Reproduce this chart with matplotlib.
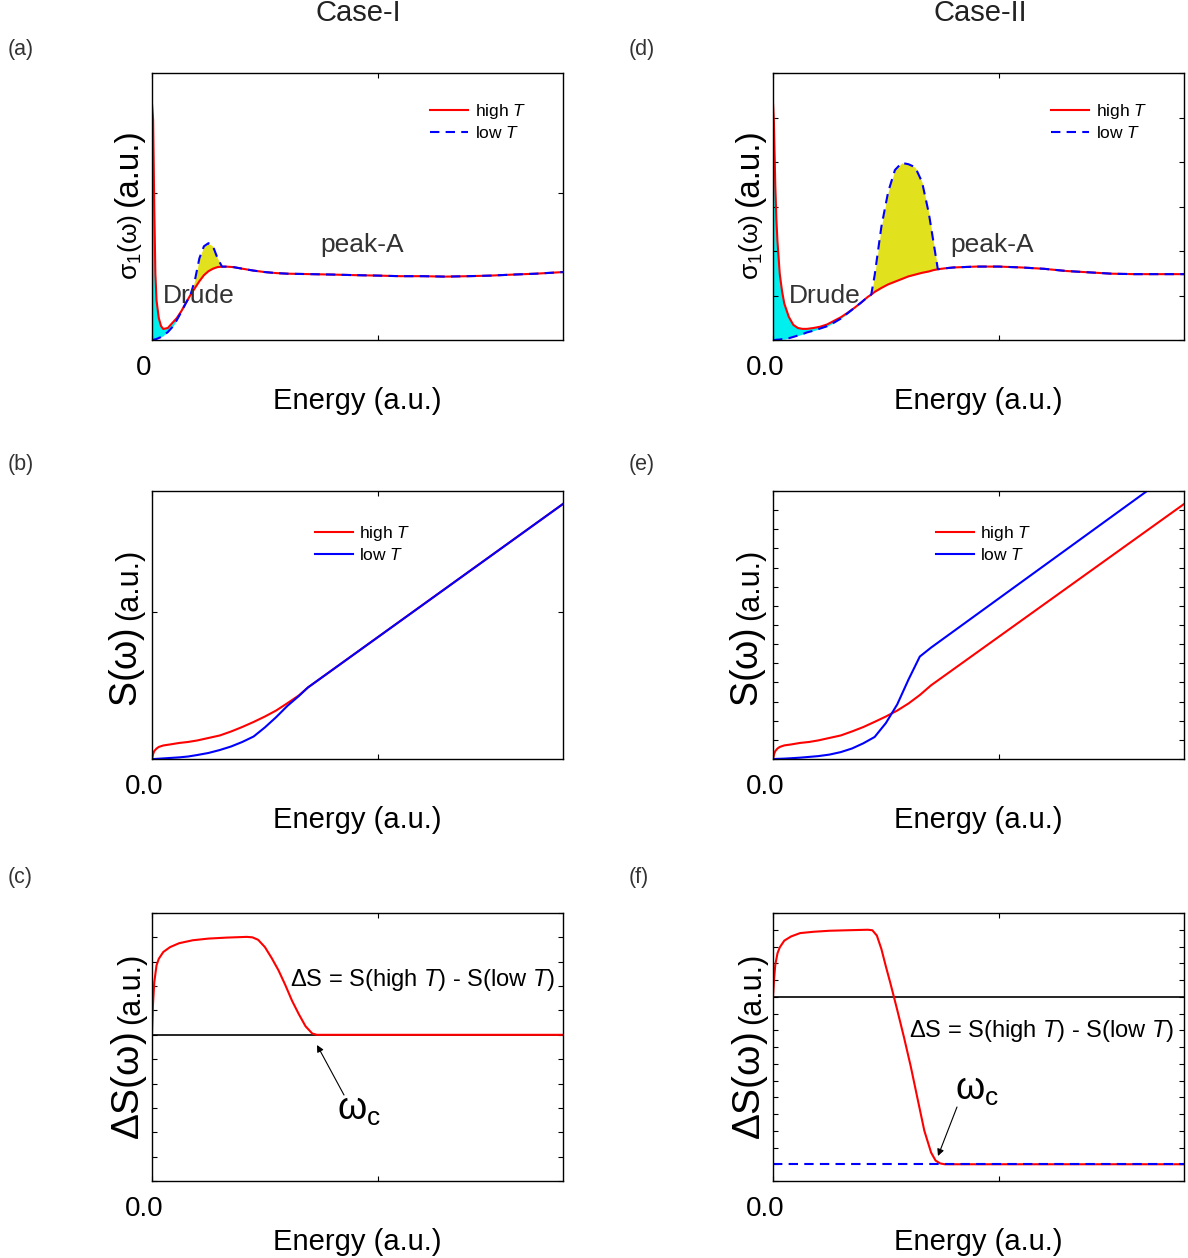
import matplotlib
matplotlib.use('Agg')
import matplotlib.pyplot as plt
from matplotlib.transforms import ScaledTranslation

plt.rcParams['font.family'] = ['Liberation Sans', 'DejaVu Sans']
plt.rcParams['mathtext.fontset'] = 'custom'
plt.rcParams['mathtext.rm'] = 'Liberation Sans'
plt.rcParams['mathtext.it'] = 'Liberation Sans:italic'
plt.rcParams['mathtext.bf'] = 'Liberation Sans:bold'

# ---- Case-I: sigma_1 (panel a) ----
energy_a = [0, 0.005, 0.01, 0.015, 0.02, 0.03, 0.04, 0.05, 0.07, 0.09,
            0.11, 0.13, 0.15, 0.17, 0.19, 0.21, 0.23, 0.25, 0.27, 0.29,
            0.31, 0.33, 0.36, 0.40, 0.45, 0.5, 0.55, 0.6, 0.7, 0.8,
            0.9, 1.0, 1.1, 1.2, 1.3, 1.4, 1.5, 1.6, 1.7, 1.82]
sigma_high_a = [1.61, 1.5, 0.9, 0.45, 0.27, 0.15, 0.095, 0.075, 0.082, 0.116,
                0.15, 0.197, 0.252, 0.306, 0.354, 0.401, 0.442, 0.469, 0.486, 0.497,
                0.5, 0.5, 0.497, 0.486, 0.473, 0.463, 0.456, 0.452, 0.449, 0.446,
                0.442, 0.439, 0.435, 0.435, 0.432, 0.435, 0.439, 0.446, 0.452, 0.463]
sigma_low_a = [0, 0.001, 0.003, 0.005, 0.007, 0.014, 0.02, 0.031, 0.054, 0.088,
               0.136, 0.192, 0.252, 0.306, 0.408, 0.558, 0.639, 0.66, 0.639, 0.558,
               0.5, 0.5, 0.497, 0.486, 0.473, 0.463, 0.456, 0.452, 0.449, 0.446,
               0.442, 0.439, 0.435, 0.435, 0.432, 0.435, 0.439, 0.446, 0.452, 0.463]

# ---- Case-II: sigma_1 (panel d) ----
energy_d = [0, 0.004, 0.01, 0.015, 0.02, 0.03, 0.04, 0.05, 0.07, 0.09,
            0.11, 0.13, 0.15, 0.18, 0.21, 0.24, 0.27, 0.30, 0.33, 0.36,
            0.39, 0.42, 0.435, 0.45, 0.48, 0.51, 0.54, 0.57, 0.6, 0.63,
            0.66, 0.69, 0.71, 0.73, 0.76, 0.8, 0.9, 1.0, 1.1, 1.2,
            1.3, 1.4, 1.5, 1.6, 1.7, 1.82]
sigma_high_d = [5.33, 4.9, 3.5, 2.7, 2.2, 1.48, 1.1, 0.82, 0.52, 0.34,
                0.27, 0.25, 0.25, 0.27, 0.30, 0.35, 0.43, 0.51, 0.61, 0.72,
                0.84, 0.97, 1.02, 1.08, 1.17, 1.25, 1.31, 1.37, 1.43, 1.47,
                1.51, 1.54, 1.57, 1.59, 1.61, 1.63, 1.65, 1.65, 1.63, 1.60,
                1.55, 1.52, 1.49, 1.48, 1.48, 1.48]
sigma_low_d = [0, 0, 0, 0.005, 0.007, 0.01, 0.02, 0.02, 0.04, 0.07,
               0.10, 0.13, 0.17, 0.21, 0.26, 0.31, 0.39, 0.48, 0.60, 0.72,
               0.84, 0.97, 1.02, 1.45, 2.55, 3.33, 3.82, 3.98, 3.95, 3.88,
               3.55, 2.85, 2.22, 1.59, 1.61, 1.63, 1.65, 1.65, 1.63, 1.60,
               1.55, 1.52, 1.49, 1.48, 1.48, 1.48]

# ---- spectral weight S(w) (panels b, e) ----
energy_b = [0, 0.005, 0.01, 0.02, 0.03, 0.05, 0.08, 0.12, 0.16, 0.2,
            0.25, 0.3, 0.35, 0.4, 0.45, 0.5, 0.55, 0.6, 0.65, 0.69, 1.82]
s_high_b = [0, 0.034, 0.054, 0.071, 0.082, 0.092, 0.099, 0.109, 0.116, 0.126,
            0.143, 0.160, 0.187, 0.218, 0.252, 0.289, 0.330, 0.380, 0.432, 0.486, 1.735]
s_low_b = [0, 0, 0, 0.001, 0.002, 0.004, 0.007, 0.011, 0.017, 0.027,
           0.041, 0.061, 0.085, 0.116, 0.153, 0.215, 0.285, 0.362, 0.428, 0.486, 1.735]

energy_e = [0, 0.005, 0.01, 0.02, 0.03, 0.05, 0.08, 0.12, 0.16, 0.2,
            0.25, 0.3, 0.35, 0.4, 0.45, 0.5, 0.55, 0.6, 0.65, 0.7, 1.82]
s_high_e = [0, 0.26, 0.41, 0.55, 0.63, 0.71, 0.76, 0.84, 0.89, 0.97,
            1.10, 1.23, 1.44, 1.67, 1.94, 2.22, 2.53, 2.90, 3.34, 3.85, 13.32]
s_low_e = [0, 0, 0, 0.01, 0.01, 0.02, 0.04, 0.07, 0.11, 0.15,
           0.23, 0.36, 0.55, 0.82, 1.15, 1.88, 2.85, 4.15, 5.35, 5.82, 15.4]

# ---- delta S (panels c, f) ----
energy_c = [0, 0.004, 0.01, 0.02, 0.03, 0.05, 0.08, 0.12, 0.18, 0.25,
            0.33, 0.42, 0.445, 0.47, 0.5, 0.53, 0.56, 0.59, 0.62, 0.65,
            0.68, 0.71, 0.73, 1.82]
ds_c = [0, 1.2, 2.15, 2.85, 3.12, 3.4, 3.6, 3.76, 3.88, 3.95,
        3.99, 4.02, 4.0, 3.9, 3.6, 3.15, 2.65, 2.05, 1.40, 0.85,
        0.35, 0.05, 0, 0]

energy_f = [0, 0.004, 0.01, 0.02, 0.03, 0.05, 0.08, 0.12, 0.18, 0.25,
            0.33, 0.42, 0.44, 0.46, 0.48, 0.5, 0.52, 0.55, 0.58, 0.61,
            0.64, 0.67, 0.7, 0.72, 0.74, 0.76, 1.82]
ds_f = [0, 0.9, 1.9, 2.6, 2.95, 3.35, 3.6, 3.8, 3.88, 3.94,
        3.97, 4.0, 3.97, 3.65, 2.85, 1.8, 0.8, -0.78, -2.42, -4.16,
        -6.08, -7.99, -9.3, -9.78, -9.95, -10, -10]
ds_low_f = -10

W, H = 1188, 1258
fig = plt.figure(figsize=(W / 100, H / 100), dpi=100)

RED = '#ff0000'
BLUE = '#0000ff'
GREY = '#333333'


def fxy(x, y):
    # pixel position in the picture -> figure fraction
    return x / W, 1 - y / H


def make_axes(col, row, zero_label, ylim, yticks):
    left = [152, 773][col]
    top = [73, 491, 913][row]
    bottom = [340, 759, 1181][row]
    ax = fig.add_axes([left / W, 1 - bottom / H, 411 / W, (bottom - top) / H])
    ax.set_xlim(0, 1.82)
    ax.set_ylim(*ylim)
    ax.set_xticks([0, 1])
    ax.set_xticklabels([zero_label, ''])
    ax.set_yticks(yticks)
    ax.set_yticklabels([])
    ax.tick_params(direction='in', top=True, right=True, length=3.6, width=0.8,
                   labelsize=20, pad=11)
    for s in ax.spines.values():
        s.set_linewidth(1.0)
    for lab in ax.get_xticklabels():
        lab.set_transform(lab.get_transform() + ScaledTranslation(-8 / 100, 0, fig.dpi_scale_trans))
    ax.set_xlabel('Energy (a.u.)', fontsize=21)
    ax.xaxis.set_label_coords(0.5, -0.175)
    return ax


def y_label(ax, x_base, y_big, big, big_size, small_size):
    # big symbol part, then "(a.u.)" right after it along the rotated line
    t = fig.text(*fxy(x_base, y_big), big, fontsize=big_size, rotation=90,
                 rotation_mode='anchor', ha='left', va='baseline')
    ax.annotate('(a.u.)', xy=(x_base, 1.0), xycoords=('figure pixels', t),
                xytext=(0, 6), textcoords='offset points', fontsize=small_size,
                rotation=90, rotation_mode='anchor', ha='left', va='baseline',
                annotation_clip=False)


def legend(ax, x, y):
    ax.legend(loc='center left', bbox_to_anchor=(x, y), frameon=False, fontsize=12.5,
              handlelength=2.2, handletextpad=0.35, labelspacing=0.25,
              borderpad=0, borderaxespad=0)


# titles and panel letters
fig.text(*fxy(358, 13), 'Case-I', fontsize=21, ha='center', va='center', color='#222222')
fig.text(*fxy(980, 13), 'Case-II', fontsize=21, ha='center', va='center', color='#222222')
for letter, x, y in [('(a)', 8, 50), ('(b)', 8, 465), ('(c)', 8, 878),
                     ('(d)', 629, 50), ('(e)', 629, 465), ('(f)', 629, 878)]:
    fig.text(*fxy(x, y), letter, fontsize=15.5, ha='left', va='center', color=GREY)

# sigma_1 panels
sigma_panels = [
    (0, energy_a, sigma_high_a, sigma_low_a, '0', (0, 1.82), [1], 163, 320),
    (1, energy_d, sigma_high_d, sigma_low_d, '0.0', (0, 6), range(0, 7), 789, 950),
]
for col, e, hi, lo, zl, ylim, yt, drude_x, peak_x in sigma_panels:
    ax = make_axes(col, 0, zl, ylim, yt)
    ax.fill_between(e, hi, lo, where=[h > l for h, l in zip(hi, lo)], interpolate=True,
                    color='#00f0f0', lw=0)
    ax.fill_between(e, hi, lo, where=[l > h for h, l in zip(hi, lo)], interpolate=True,
                    color='#e1e11e', lw=0)
    ax.plot(e, hi, color=RED, lw=1.5, label=r'high $\it{T}$')
    ax.plot(e, lo, color=BLUE, lw=1.5, dashes=(4.5, 3), label=r'low $\it{T}$')
    legend(ax, 0.677, 0.818)
    fig.text(*fxy(drude_x, 303), 'Drude', fontsize=19, color=GREY, va='baseline')
    fig.text(*fxy(peak_x, 252), 'peak-A', fontsize=19, color=GREY, va='baseline')
    y_label(ax, 137 + 621 * col, 280, r'$\mathregular{\sigma_1(\omega)}$', 19, 24)

# S(w) panels
s_panels = [
    (0, energy_b, s_high_b, s_low_b, (0, 1.823), [1]),
    (1, energy_e, s_high_e, s_low_e, (0, 14), range(0, 15)),
]
for col, e, hi, lo, ylim, yt in s_panels:
    ax = make_axes(col, 1, '0.0', ylim, yt)
    ax.plot(e, hi, color=RED, lw=1.5, label=r'high $\it{T}$')
    ax.plot(e, lo, color=BLUE, lw=1.5, label=r'low $\it{T}$')
    legend(ax, 0.397, 0.804)
    y_label(ax, 137 + 621 * col, 707, r'$\mathregular{S(\omega)}$', 27, 22)

# delta S panels
ds_text = r'$\mathregular{\Delta}$S = S(high $\it{T}$) - S(low $\it{T}$)'

ax = make_axes(0, 2, '0.0', (-6, 5), range(-6, 6))
ax.axhline(0, color='black', lw=1.2)
ax.plot(energy_c, ds_c, color=RED, lw=1.5)
fig.text(*fxy(290, 986), ds_text, fontsize=17, va='baseline')
fig.text(*fxy(337, 1120), r'$\mathregular{\omega_c}$', fontsize=27, va='baseline')
ax.annotate('', xy=(317, H - 1045), xycoords='figure pixels',
            xytext=(344, H - 1095), textcoords='figure pixels',
            arrowprops=dict(arrowstyle='-|>', color='black', lw=0.8,
                            mutation_scale=10, shrinkA=0, shrinkB=0))
y_label(ax, 139, 1140, r'$\mathregular{\Delta S(\omega)}$', 28, 22)

ax = make_axes(1, 2, '0.0', (-11, 5), range(-11, 6))
ax.axhline(0, color='black', lw=1.2)
ax.plot(energy_f, ds_f, color=RED, lw=1.5)
ax.axhline(ds_low_f, color=BLUE, lw=1.5, dashes=(4.5, 3))
fig.text(*fxy(909, 1037), ds_text, fontsize=17, va='baseline')
fig.text(*fxy(955, 1100), r'$\mathregular{\omega_c}$', fontsize=27, va='baseline')
ax.annotate('', xy=(938, H - 1156), xycoords='figure pixels',
            xytext=(957, H - 1107), textcoords='figure pixels',
            arrowprops=dict(arrowstyle='-|>', color='black', lw=0.8,
                            mutation_scale=10, shrinkA=0, shrinkB=0))
y_label(ax, 760, 1140, r'$\mathregular{\Delta S(\omega)}$', 28, 22)

fig.savefig('out.png', dpi=100)
